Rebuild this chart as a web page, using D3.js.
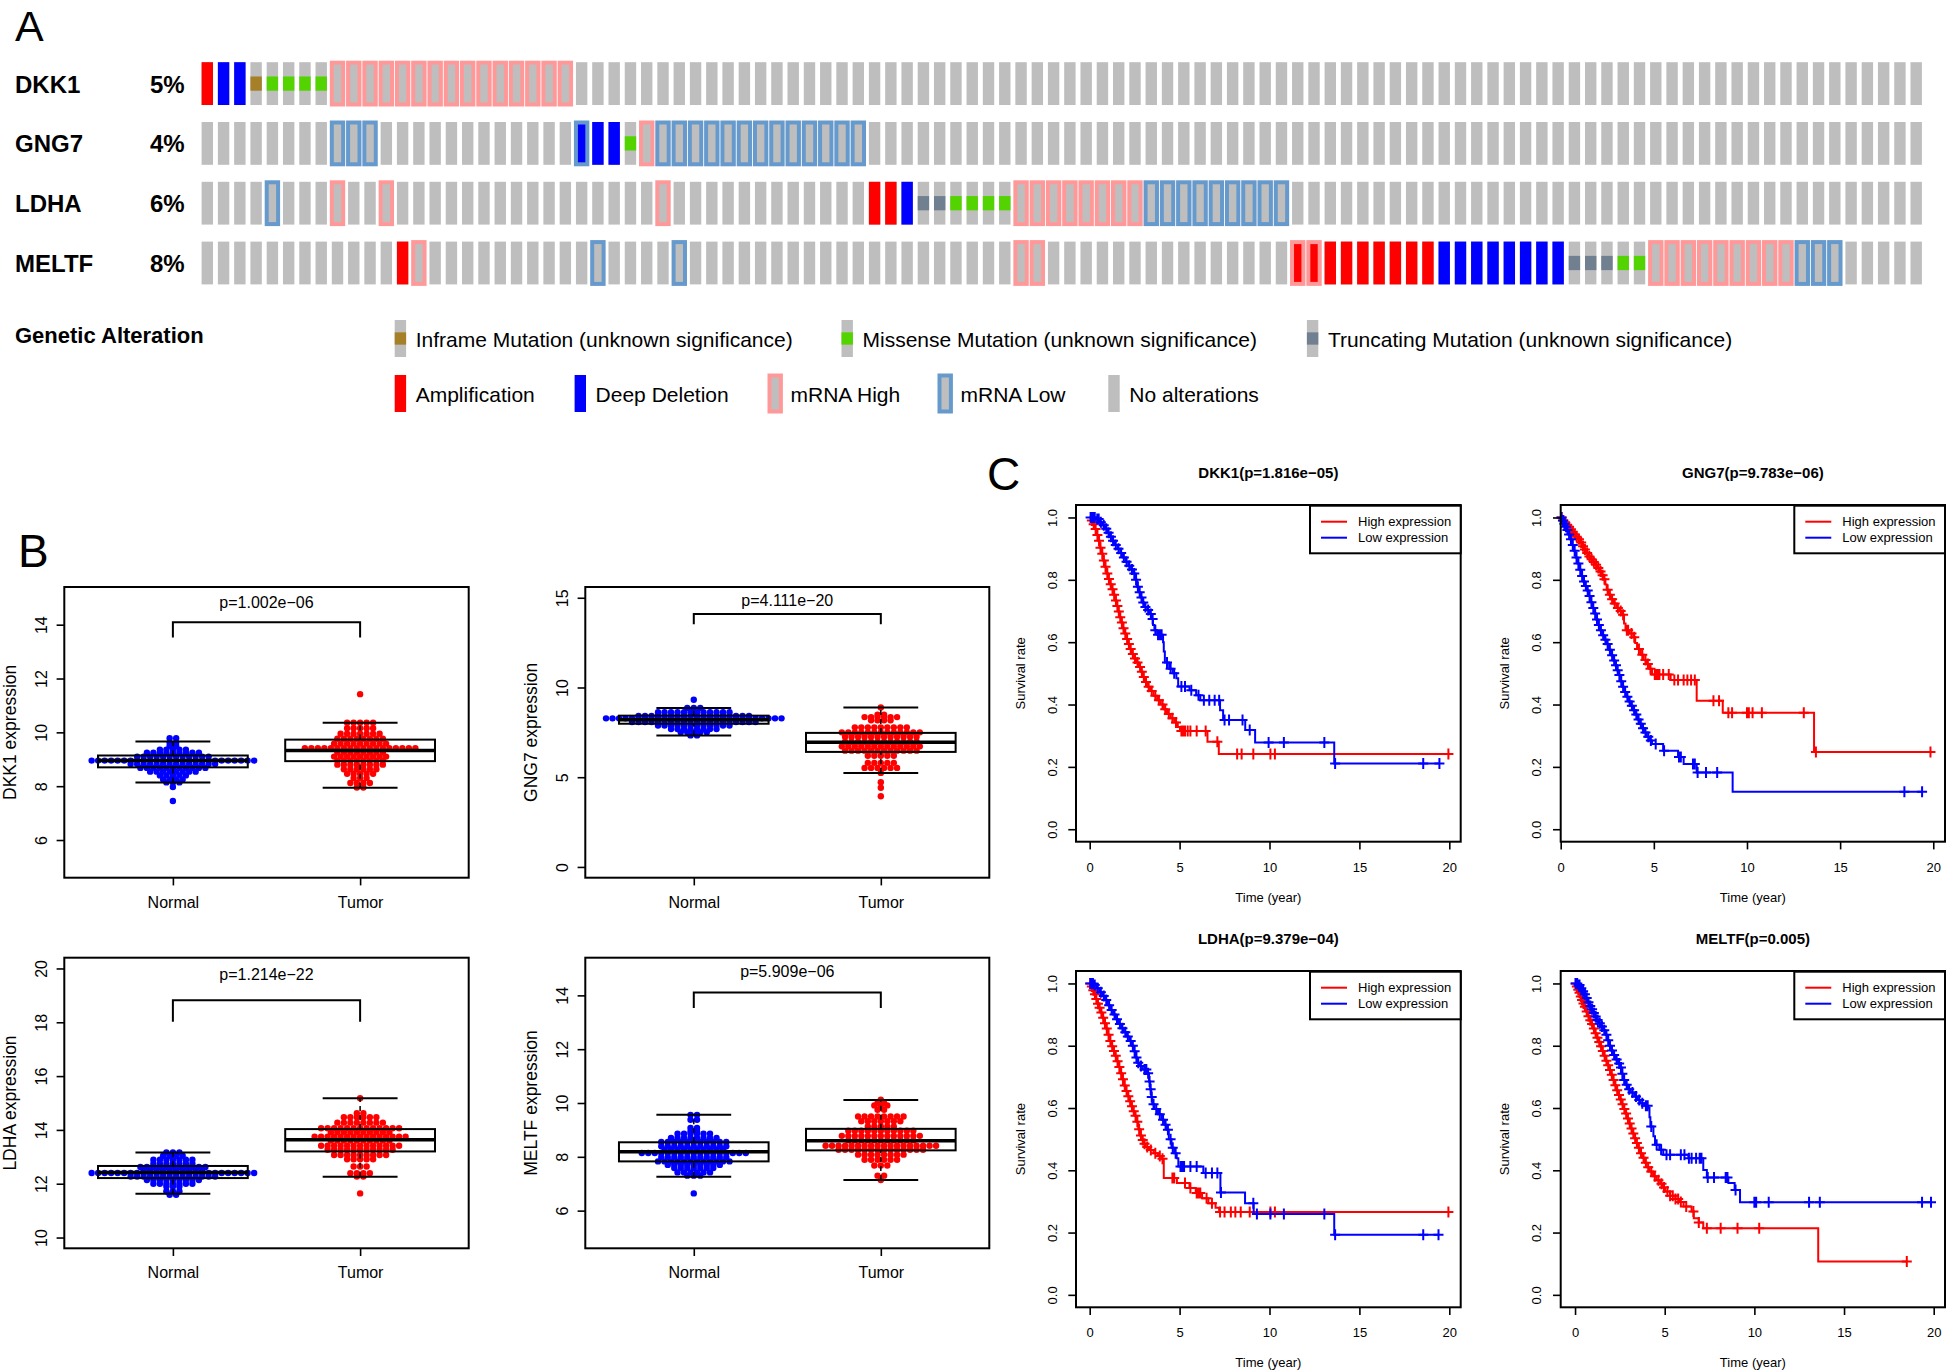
<!DOCTYPE html>
<html><head><meta charset="utf-8">
<script src="https://cdn.jsdelivr.net/npm/d3@7"></script>
<style>body{margin:0;background:#fff}svg{display:block}text{font-family:"Liberation Sans",Arial,Helvetica,sans-serif}</style>
</head><body>
<svg id="c" width="1946" height="1372"></svg>
<script>
// ================= DATA =================
// Panel A: oncoprint
const genes = ["DKK1", "GNG7", "LDHA", "MELTF"];
const alteredPct = ["5%", "4%", "6%", "8%"];
const nSamples = 106;
// ranges: [geneIndex, firstColumn, lastColumn]
const amplification = [[0,0,0],[2,41,42],[3,12,12],[3,67,75]];
const deepDeletion  = [[0,1,2],[1,23,25],[2,43,43],[3,76,83]];
const inframeMut    = [[0,3,3]];
const missenseMut   = [[0,4,7],[1,26,26],[2,46,49],[3,87,88]];
const truncatingMut = [[2,44,45],[3,84,86]];
const mrnaHigh      = [[0,8,22],[1,27,27],[2,8,8],[2,11,11],[2,28,28],[2,50,57],[3,13,13],[3,50,51],[3,67,68],[3,89,97]];
const mrnaLow       = [[1,8,10],[1,23,23],[1,28,40],[2,4,4],[2,58,66],[3,24,24],[3,29,29],[3,98,100]];
const legendRow1 = ["Inframe Mutation (unknown significance)", "Missense Mutation (unknown significance)", "Truncating Mutation (unknown significance)"];
const legendRow2 = ["Amplification", "Deep Deletion", "mRNA High", "mRNA Low", "No alterations"];

// Panel B: expression boxplots
const groups = ["Normal", "Tumor"];
// [lower whisker, Q1, median, Q3, upper whisker]
const dkk1Stats  = [[8.14, 8.70, 8.95, 9.14, 9.66], [7.94, 8.93, 9.33, 9.73, 10.36]];
const gng7Stats  = [[7.33, 7.98, 8.20, 8.43, 8.86], [5.24, 6.41, 6.95, 7.47, 8.89]];
const ldhaStats  = [[11.63, 12.21, 12.42, 12.66, 13.16], [12.26, 13.20, 13.63, 14.03, 15.18]];
const meltfStats = [[7.26, 7.83, 8.19, 8.54, 9.56], [7.14, 8.24, 8.60, 9.04, 10.11]];
// beeswarm rows: [expression value, number of samples]
const dkk1Normal  = [[9.78,2],[9.62,2],[9.5,2],[9.36,5],[9.24,9],[9.1,12],[8.95,26],[8.82,14],[8.68,11],[8.54,8],[8.40,5],[8.25,4],[8.14,3],[7.97,1],[7.45,1]];
const dkk1Tumor   = [[11.42,1],[10.36,5],[10.15,5],[9.95,7],[9.76,8],[9.58,9],[9.41,18],[9.25,8],[9.10,9],[8.95,8],[8.80,8],[8.63,6],[8.46,5],[8.30,3],[8.12,4],[7.95,2]];
const gng7Normal  = [[9.32,1],[8.86,3],[8.62,12],[8.42,18],[8.28,28],[8.08,20],[7.88,12],[7.68,8],[7.50,5],[7.33,2]];
const gng7Tumor   = [[8.89,1],[8.48,2],[8.35,6],[8.17,4],[7.78,9],[7.50,13],[7.25,12],[6.98,12],[6.72,13],[6.48,12],[6.20,5],[5.80,5],[5.52,6],[5.24,1],[4.72,1],[4.41,1],[3.94,1]];
const ldhaNormal  = [[13.16,3],[13.04,4],[12.89,7],[12.74,7],[12.62,11],[12.50,10],[12.40,26],[12.27,14],[12.14,9],[12.00,7],[11.90,3],[11.72,3],[11.59,2]];
const ldhaTumor   = [[15.18,1],[14.62,2],[14.47,6],[14.27,8],[14.06,13],[13.91,10],[13.75,15],[13.60,10],[13.41,13],[13.26,11],[13.07,9],[12.91,5],[12.64,3],[12.39,4],[12.27,2],[11.64,1]];
const meltfNormal = [[9.56,2],[9.38,2],[9.07,2],[8.94,2],[8.86,6],[8.70,8],[8.55,11],[8.39,11],[8.26,10],[8.14,17],[7.99,11],[7.83,12],[7.70,9],[7.58,7],[7.42,6],[7.30,3],[6.64,1]];
const meltfTumor  = [[10.12,1],[10.0,2],[9.91,3],[9.75,2],[9.50,8],[9.32,7],[9.13,5],[8.97,11],[8.78,13],[8.61,11],[8.41,18],[8.26,14],[8.08,8],[7.89,6],[7.68,3],[7.30,2],[7.14,1]];

// Panel C: Kaplan-Meier curves, steps [time (year), survival after event], censor times
const dkk1HighSteps = [[0.08,0.99],[0.18,0.978],[0.28,0.963],[0.38,0.944],[0.47,0.925],[0.56,0.903],[0.65,0.884],[0.74,0.862],[0.83,0.842],[0.93,0.82],[1.02,0.803],[1.12,0.786],[1.22,0.77],[1.32,0.752],[1.42,0.734],[1.5,0.716],[1.58,0.698],[1.66,0.68],[1.75,0.663],[1.84,0.645],[1.94,0.628],[2.04,0.61],[2.14,0.594],[2.24,0.578],[2.34,0.562],[2.46,0.548],[2.6,0.535],[2.74,0.52],[2.86,0.505],[2.96,0.488],[3.06,0.472],[3.2,0.457],[3.36,0.443],[3.55,0.428],[3.75,0.414],[3.95,0.4],[4.12,0.385],[4.3,0.37],[4.5,0.356],[4.7,0.342],[4.9,0.328],[5.02,0.315],[6.55,0.281],[7.18,0.241]];
const dkk1HighCensor = [0.12,0.22,0.33,0.43,0.52,0.6,0.7,0.79,0.88,0.98,1.07,1.17,1.27,1.36,1.46,1.54,1.62,1.7,1.79,1.88,1.98,2.08,2.18,2.28,2.4,2.52,2.66,2.8,2.9,3.01,3.13,3.28,3.45,3.65,3.85,4.05,4.2,4.4,4.6,4.8,5.1,5.2,5.3,5.45,5.6,5.95,6.45,7.1,8.2,8.45,9.1,10.05,10.3,19.95];
const dkk1LowSteps = [[0.35,0.995],[0.55,0.985],[0.7,0.975],[0.85,0.964],[1.0,0.951],[1.12,0.938],[1.25,0.925],[1.4,0.912],[1.55,0.9],[1.7,0.886],[1.85,0.872],[2.0,0.858],[2.15,0.845],[2.3,0.833],[2.45,0.82],[2.55,0.8],[2.62,0.778],[2.72,0.76],[2.82,0.743],[2.92,0.727],[3.02,0.713],[3.2,0.703],[3.35,0.69],[3.45,0.674],[3.52,0.655],[3.6,0.638],[3.75,0.624],[4.08,0.6],[4.12,0.57],[4.18,0.535],[4.42,0.515],[4.62,0.5],[4.82,0.484],[4.92,0.458],[5.55,0.446],[5.92,0.43],[6.15,0.414],[7.25,0.382],[7.42,0.35],[8.65,0.318],[9.2,0.278],[13.6,0.211]];
const dkk1LowCensor = [0.05,0.12,0.2,0.28,0.42,0.5,0.62,0.78,0.92,1.05,1.18,1.3,1.45,1.6,1.75,1.9,2.05,2.2,2.35,2.48,2.58,2.68,2.78,2.88,2.98,3.1,3.25,3.4,3.5,3.65,3.8,3.9,4.0,4.3,4.5,4.7,5.1,5.3,5.65,6.05,6.35,6.65,6.95,7.2,7.5,7.75,8.5,8.9,9.95,10.8,13.05,13.65,18.55,19.45];
const gng7HighSteps = [[0.1,0.99],[0.2,0.982],[0.3,0.976],[0.4,0.97],[0.5,0.962],[0.6,0.954],[0.7,0.946],[0.8,0.938],[0.92,0.93],[1.04,0.92],[1.15,0.908],[1.25,0.897],[1.35,0.886],[1.48,0.875],[1.6,0.866],[1.72,0.857],[1.84,0.848],[1.96,0.838],[2.08,0.827],[2.2,0.815],[2.3,0.802],[2.4,0.785],[2.47,0.768],[2.58,0.752],[2.7,0.738],[2.83,0.724],[3.0,0.71],[3.15,0.7],[3.3,0.688],[3.4,0.66],[3.48,0.638],[3.7,0.628],[3.9,0.616],[4.0,0.597],[4.1,0.578],[4.3,0.56],[4.45,0.543],[4.6,0.53],[4.75,0.515],[4.9,0.496],[5.9,0.479],[7.3,0.412],[8.7,0.374],[13.6,0.248]];
const gng7HighCensor = [0.05,0.15,0.25,0.35,0.45,0.55,0.65,0.75,0.86,0.98,1.1,1.2,1.3,1.42,1.54,1.66,1.78,1.9,2.02,2.14,2.25,2.35,2.52,2.64,2.76,2.9,3.07,3.22,3.35,3.55,3.62,3.8,3.95,4.2,4.38,4.55,4.68,4.82,5.05,5.12,5.2,5.3,5.5,5.8,6.1,6.3,6.6,6.8,7.0,7.2,8.2,8.5,9.0,9.2,10.0,10.1,10.3,10.8,13.05,13.7,19.85];
const gng7LowSteps = [[0.08,0.99],[0.16,0.98],[0.24,0.97],[0.32,0.96],[0.4,0.945],[0.5,0.93],[0.6,0.912],[0.7,0.893],[0.8,0.872],[0.9,0.852],[1.0,0.832],[1.1,0.812],[1.2,0.795],[1.3,0.78],[1.4,0.766],[1.5,0.748],[1.6,0.728],[1.7,0.71],[1.8,0.692],[1.9,0.673],[2.0,0.655],[2.1,0.638],[2.22,0.622],[2.34,0.608],[2.46,0.594],[2.58,0.576],[2.7,0.558],[2.82,0.541],[2.92,0.526],[3.02,0.51],[3.1,0.495],[3.2,0.475],[3.3,0.457],[3.4,0.44],[3.52,0.425],[3.64,0.41],[3.76,0.396],[3.88,0.382],[4.0,0.368],[4.12,0.352],[4.24,0.338],[4.36,0.324],[4.48,0.31],[4.62,0.297],[4.78,0.285],[4.9,0.273],[5.5,0.252],[6.3,0.232],[6.6,0.209],[7.3,0.182],[9.23,0.12]];
const gng7LowCensor = [0.04,0.12,0.2,0.28,0.36,0.45,0.55,0.65,0.75,0.85,0.95,1.05,1.15,1.25,1.35,1.45,1.55,1.65,1.75,1.85,1.95,2.05,2.16,2.28,2.4,2.52,2.64,2.76,2.87,2.97,3.06,3.15,3.25,3.35,3.46,3.58,3.7,3.82,3.94,4.06,4.18,4.3,4.42,4.55,4.7,4.84,5.1,5.55,6.35,6.45,7.1,7.2,7.35,7.8,8.4,18.45,19.4];
const ldhaHighSteps = [[0.08,0.99],[0.16,0.978],[0.25,0.965],[0.33,0.95],[0.42,0.935],[0.5,0.922],[0.6,0.907],[0.7,0.89],[0.8,0.872],[0.9,0.855],[1.0,0.835],[1.1,0.815],[1.2,0.798],[1.3,0.783],[1.4,0.768],[1.5,0.75],[1.6,0.732],[1.7,0.712],[1.8,0.692],[1.9,0.672],[2.0,0.655],[2.1,0.638],[2.2,0.622],[2.3,0.606],[2.4,0.59],[2.5,0.575],[2.6,0.556],[2.7,0.532],[2.8,0.512],[2.9,0.497],[3.0,0.485],[3.1,0.475],[3.3,0.465],[3.55,0.455],[3.8,0.446],[4.0,0.437],[4.12,0.375],[4.85,0.359],[5.55,0.343],[5.9,0.327],[6.25,0.31],[6.6,0.294],[7.0,0.28],[7.2,0.266]];
const ldhaHighCensor = [0.04,0.12,0.2,0.29,0.37,0.46,0.55,0.65,0.75,0.85,0.95,1.05,1.15,1.25,1.35,1.45,1.55,1.65,1.75,1.85,1.95,2.05,2.15,2.25,2.35,2.45,2.55,2.65,2.75,2.85,2.95,3.05,3.2,3.4,3.65,3.9,4.05,4.6,4.7,5.3,5.6,5.95,6.05,6.15,6.5,6.8,7.25,7.5,7.85,8.1,8.4,8.9,10.05,10.3,19.95];
const ldhaLowSteps = [[0.2,0.995],[0.39,0.985],[0.55,0.972],[0.7,0.96],[0.85,0.947],[1.0,0.93],[1.15,0.915],[1.3,0.9],[1.45,0.885],[1.6,0.87],[1.75,0.856],[1.9,0.843],[2.05,0.83],[2.2,0.815],[2.35,0.8],[2.45,0.782],[2.55,0.762],[2.63,0.745],[2.75,0.735],[2.95,0.724],[3.2,0.712],[3.3,0.685],[3.36,0.66],[3.42,0.635],[3.48,0.612],[3.6,0.597],[3.8,0.58],[4.0,0.562],[4.15,0.546],[4.28,0.53],[4.4,0.5],[4.55,0.472],[4.7,0.455],[4.84,0.439],[4.93,0.412],[6.32,0.391],[7.27,0.329],[8.64,0.294],[9.12,0.26],[13.6,0.193]];
const ldhaLowCensor = [0.03,0.1,0.18,0.28,0.45,0.62,0.78,0.92,1.08,1.22,1.38,1.52,1.68,1.82,1.98,2.12,2.28,2.4,2.5,2.6,2.7,2.85,3.05,3.15,3.25,3.33,3.39,3.45,3.55,3.7,3.9,4.08,4.22,4.35,4.5,4.62,4.78,5.05,5.12,5.2,5.25,5.6,5.95,6.45,6.8,7.1,7.3,9.1,9.3,10.05,10.8,13.05,13.65,18.55,19.4];
const meltfHighSteps = [[0.07,0.99],[0.14,0.98],[0.21,0.97],[0.28,0.958],[0.35,0.947],[0.43,0.936],[0.5,0.925],[0.6,0.91],[0.7,0.895],[0.8,0.882],[0.9,0.87],[1.0,0.855],[1.1,0.84],[1.2,0.826],[1.3,0.812],[1.4,0.798],[1.5,0.783],[1.6,0.768],[1.7,0.752],[1.8,0.737],[1.9,0.722],[2.0,0.707],[2.1,0.69],[2.2,0.673],[2.3,0.657],[2.4,0.642],[2.5,0.627],[2.6,0.612],[2.7,0.597],[2.8,0.582],[2.9,0.566],[3.0,0.55],[3.1,0.534],[3.2,0.518],[3.3,0.503],[3.4,0.488],[3.5,0.472],[3.62,0.455],[3.75,0.44],[3.9,0.424],[4.0,0.41],[4.15,0.396],[4.35,0.381],[4.55,0.368],[4.75,0.357],[4.9,0.345],[5.02,0.332],[5.3,0.318],[5.6,0.308],[5.85,0.298],[6.05,0.284],[6.5,0.268],[6.62,0.246],[6.9,0.232],[7.15,0.214],[13.56,0.107]];
const meltfHighCensor = [0.04,0.1,0.18,0.25,0.32,0.39,0.47,0.55,0.65,0.75,0.85,0.95,1.05,1.15,1.25,1.35,1.45,1.55,1.65,1.75,1.85,1.95,2.05,2.15,2.25,2.35,2.45,2.55,2.65,2.75,2.85,2.95,3.05,3.15,3.25,3.35,3.45,3.56,3.68,3.82,3.95,4.08,4.25,4.45,4.65,4.82,4.96,5.15,5.3,5.45,5.6,5.75,5.9,6.2,6.6,6.9,7.35,8.12,9.06,10.27,18.5];
const meltfLowSteps = [[0.15,0.995],[0.3,0.985],[0.4,0.975],[0.5,0.965],[0.6,0.953],[0.7,0.94],[0.8,0.928],[0.9,0.917],[1.0,0.905],[1.1,0.894],[1.2,0.883],[1.32,0.872],[1.45,0.862],[1.58,0.85],[1.7,0.835],[1.8,0.818],[1.9,0.8],[2.0,0.785],[2.12,0.77],[2.25,0.756],[2.4,0.743],[2.52,0.73],[2.6,0.71],[2.68,0.69],[2.8,0.675],[2.95,0.66],[3.1,0.65],[3.3,0.637],[3.5,0.626],[3.65,0.615],[3.85,0.607],[4.1,0.6],[4.15,0.57],[4.2,0.541],[4.37,0.509],[4.46,0.482],[4.7,0.466],[4.92,0.45],[6.32,0.439],[7.15,0.401],[7.35,0.377],[8.55,0.359],[8.9,0.337],[9.2,0.297]];
const meltfLowCensor = [0.03,0.08,0.12,0.2,0.25,0.35,0.45,0.55,0.65,0.75,0.85,0.95,1.05,1.15,1.26,1.38,1.5,1.63,1.75,1.85,1.95,2.06,2.18,2.32,2.46,2.56,2.64,2.74,2.88,3.02,3.2,3.4,3.58,3.75,3.95,4.05,4.25,4.55,4.8,5.1,5.3,5.9,6.1,6.35,6.5,6.75,6.95,7.05,7.4,7.75,8.4,8.5,8.95,10.0,10.1,10.8,13.05,13.65,19.35,19.85];

// ================= DRAWING =================
const svg = d3.select("#c");
const FONT = '"Liberation Sans",Arial,Helvetica,sans-serif';
const RED = "#ff0000", BLUE = "#0000ff";

// ---------- Panel A ----------
svg.append("text").attr("x", 15).attr("y", 41).attr("font-size", 43).text("A");
const oncoX = d3.scaleLinear().domain([0, nSamples - 1]).range([201.6, 1910.5]);
const oncoY = d3.scaleLinear().domain([0, genes.length - 1]).range([62.2, 241.6]);
const cellW = 11.4, cellH = 42.8;
const colGray = "#bebebe", colInframe = "#a68028", colMissense = "#53d400", colTrunc = "#708090", colHigh = "#ff9999", colLow = "#6699cc";
const onco = svg.append("g");
const expand = ranges => ranges.flatMap(([g, a, b]) => d3.range(a, b + 1).map(c => [g, c]));

genes.forEach((gname, gi) => {
  onco.append("text").attr("x", 15).attr("y", oncoY(gi) + cellH / 2 + 9).attr("font-size", 24).attr("font-weight", "bold").text(gname);
  onco.append("text").attr("x", 150).attr("y", oncoY(gi) + cellH / 2 + 9).attr("font-size", 24).attr("font-weight", "bold").text(alteredPct[gi]);
  onco.selectAll(null).data(d3.range(nSamples)).join("rect")
    .attr("x", c => oncoX(c)).attr("y", oncoY(gi)).attr("width", cellW).attr("height", cellH).attr("fill", colGray);
});
const fullCells = (ranges, color) => onco.selectAll(null).data(expand(ranges)).join("rect")
  .attr("x", d => oncoX(d[1])).attr("y", d => oncoY(d[0])).attr("width", cellW).attr("height", cellH).attr("fill", color);
const mutCells = (ranges, color) => onco.selectAll(null).data(expand(ranges)).join("rect")
  .attr("x", d => oncoX(d[1])).attr("y", d => oncoY(d[0]) + cellH / 3).attr("width", cellW).attr("height", cellH / 3).attr("fill", color);
const outlineCells = (ranges, color) => onco.selectAll(null).data(expand(ranges)).join("rect")
  .attr("x", d => oncoX(d[1])).attr("y", d => oncoY(d[0]) + 0.5).attr("width", cellW).attr("height", cellH - 1)
  .attr("fill", "none").attr("stroke", color).attr("stroke-width", 4);
fullCells(amplification, RED);
fullCells(deepDeletion, BLUE);
mutCells(inframeMut, colInframe);
mutCells(missenseMut, colMissense);
mutCells(truncatingMut, colTrunc);
outlineCells(mrnaHigh, colHigh);
outlineCells(mrnaLow, colLow);

// legend
const leg = svg.append("g");
leg.append("text").attr("x", 15).attr("y", 342.5).attr("font-size", 22).attr("font-weight", "bold").text("Genetic Alteration");
const lh = 37;
const row1X = [394.7, 841.5, 1306.9], row1Col = [colInframe, colMissense, colTrunc];
legendRow1.forEach((t, i) => {
  leg.append("rect").attr("x", row1X[i]).attr("y", 320).attr("width", cellW).attr("height", lh).attr("fill", colGray);
  leg.append("rect").attr("x", row1X[i]).attr("y", 320 + lh / 3).attr("width", cellW).attr("height", lh / 3).attr("fill", row1Col[i]);
  leg.append("text").attr("x", row1X[i] + 21).attr("y", 347).attr("font-size", 21).text(t);
});
const row2X = [394.7, 574.6, 769.5, 939.5, 1108.3];
legendRow2.forEach((t, i) => {
  const y0 = 375;
  if (i === 0) leg.append("rect").attr("x", row2X[i]).attr("y", y0).attr("width", cellW).attr("height", lh).attr("fill", RED);
  else if (i === 1) leg.append("rect").attr("x", row2X[i]).attr("y", y0).attr("width", cellW).attr("height", lh).attr("fill", BLUE);
  else {
    leg.append("rect").attr("x", row2X[i]).attr("y", y0).attr("width", cellW).attr("height", lh).attr("fill", colGray);
    if (i === 2 || i === 3) leg.append("rect").attr("x", row2X[i]).attr("y", y0 + 0.5).attr("width", cellW).attr("height", lh - 1)
      .attr("fill", "none").attr("stroke", i === 2 ? colHigh : colLow).attr("stroke-width", 4);
  }
  leg.append("text").attr("x", row2X[i] + 21).attr("y", 402).attr("font-size", 21).text(t);
});

// ---------- Panel B ----------
svg.append("text").attr("x", 18).attr("y", 567).attr("font-size", 46).text("B");
const dotStep = 6.5, dotR = 3.2;
function boxPanel(o) {
  const g = svg.append("g");
  const x = d3.scaleLinear().domain([0.42, 2.58]).range([o.left, o.right]);
  const y = d3.scaleLinear().domain(o.yDomain).range([o.bottom, o.top]);
  const cols = [BLUE, RED];
  // dots (beeswarm, centred rows)
  o.rows.forEach((rows, gi) => {
    const pts = rows.flatMap(([v, n]) => d3.range(n).map(i => ({ v, off: (i - (n - 1) / 2) * dotStep })));
    g.selectAll(null).data(pts).join("circle")
      .attr("cx", d => x(gi + 1) + d.off).attr("cy", d => y(d.v)).attr("r", dotR).attr("fill", cols[gi]);
  });
  // boxes
  o.stats.forEach((s, gi) => {
    const cx = x(gi + 1), bl = x(gi + 1 - 0.4), br = x(gi + 1 + 0.4), cl = x(gi + 1 - 0.2), cr = x(gi + 1 + 0.2);
    g.append("line").attr("x1", cx).attr("x2", cx).attr("y1", y(s[0])).attr("y2", y(s[1])).attr("stroke", "#000").attr("stroke-width", 1.5).attr("stroke-dasharray", "5,4");
    g.append("line").attr("x1", cx).attr("x2", cx).attr("y1", y(s[3])).attr("y2", y(s[4])).attr("stroke", "#000").attr("stroke-width", 1.5).attr("stroke-dasharray", "5,4");
    g.append("line").attr("x1", cl).attr("x2", cr).attr("y1", y(s[0])).attr("y2", y(s[0])).attr("stroke", "#000").attr("stroke-width", 2);
    g.append("line").attr("x1", cl).attr("x2", cr).attr("y1", y(s[4])).attr("y2", y(s[4])).attr("stroke", "#000").attr("stroke-width", 2);
    g.append("rect").attr("x", bl).attr("y", y(s[3])).attr("width", br - bl).attr("height", y(s[1]) - y(s[3])).attr("fill", "none").attr("stroke", "#000").attr("stroke-width", 2);
    g.append("line").attr("x1", bl).attr("x2", br).attr("y1", y(s[2])).attr("y2", y(s[2])).attr("stroke", "#000").attr("stroke-width", 3.5);
  });
  // frame
  g.append("rect").attr("x", o.left).attr("y", o.top).attr("width", o.right - o.left).attr("height", o.bottom - o.top).attr("fill", "none").attr("stroke", "#000").attr("stroke-width", 2);
  // axes
  const ya = g.append("g").attr("transform", `translate(${o.left},0)`)
    .call(d3.axisLeft(y).tickValues(o.yTicks).tickSize(7.7).tickFormat(d3.format("d")));
  ya.select(".domain").remove();
  ya.attr("font-size", 16).attr("font-family", FONT);
  ya.selectAll("line").attr("stroke-width", 1.6);
  ya.selectAll("text").attr("x", 0).attr("dy", null).attr("y", -17.5).attr("text-anchor", "middle").attr("transform", "rotate(-90)");
  const xa = g.append("g").attr("transform", `translate(0,${o.bottom})`)
    .call(d3.axisBottom(x).tickValues([1, 2]).tickSize(7.7).tickFormat(d => groups[d - 1]));
  xa.select(".domain").remove();
  xa.attr("font-size", 16).attr("font-family", FONT);
  xa.selectAll("line").attr("stroke-width", 1.6);
  xa.selectAll("text").attr("dy", null).attr("y", 30);
  // y title
  g.append("text").attr("transform", `translate(${o.left - 48},${(o.top + o.bottom) / 2}) rotate(-90)`)
    .attr("text-anchor", "middle").attr("font-size", 17.5).text(o.title);
  // significance bracket
  g.append("path").attr("d", `M${x(1)},${y(o.bracket[1])}V${y(o.bracket[0])}H${x(2)}V${y(o.bracket[1])}`)
    .attr("fill", "none").attr("stroke", "#000").attr("stroke-width", 2);
  g.append("text").attr("x", x(1.5)).attr("y", y(o.bracket[2])).attr("text-anchor", "middle").attr("font-size", 16).text(o.pText);
}
boxPanel({ left: 64.3, right: 468.7, top: 587, bottom: 877.7, yDomain: [4.6, 15.4], yTicks: [6, 8, 10, 12, 14], title: "DKK1 expression", stats: dkk1Stats, rows: [dkk1Normal, dkk1Tumor], bracket: [14.09, 13.52, 14.63], pText: "p=1.002e\u221206" });
boxPanel({ left: 585.3, right: 989.3, top: 587, bottom: 877.7, yDomain: [-0.6, 15.6], yTicks: [0, 5, 10, 15], title: "GNG7 expression", stats: gng7Stats, rows: [gng7Normal, gng7Tumor], bracket: [14.09, 13.52, 14.56], pText: "p=4.111e\u221220" });
boxPanel({ left: 64.3, right: 468.7, top: 957.7, bottom: 1248.3, yDomain: [9.6, 20.4], yTicks: [10, 12, 14, 16, 18, 20], title: "LDHA expression", stats: ldhaStats, rows: [ldhaNormal, ldhaTumor], bracket: [18.82, 18.02, 19.57], pText: "p=1.214e\u221222" });
boxPanel({ left: 585.3, right: 989.3, top: 957.7, bottom: 1248.3, yDomain: [4.6, 15.4], yTicks: [6, 8, 10, 12, 14], title: "MELTF expression", stats: meltfStats, rows: [meltfNormal, meltfTumor], bracket: [14.11, 13.53, 14.68], pText: "p=5.909e\u221206" });

// ---------- Panel C ----------
svg.append("text").attr("x", 987).attr("y", 490).attr("font-size", 46).text("C");
function kmPanel(o) {
  const g = svg.append("g");
  const x = d3.scaleLinear().domain(o.xDomain).range([o.left, o.right]);
  const y = d3.scaleLinear().domain([-0.04, 1.04]).range([o.bottom, o.top]);
  const line = d3.line().x(d => x(d[0])).y(d => y(d[1])).curve(d3.curveStepAfter);
  [[o.high, o.highCensor, RED], [o.low, o.lowCensor, BLUE]].forEach(([steps, cens, col]) => {
    const last = steps[steps.length - 1];
    const end = Math.max(last[0], d3.max(cens));
    g.append("path").attr("d", line([[0, 1], ...steps, [end, last[1]]])).attr("fill", "none").attr("stroke", col).attr("stroke-width", 2);
    const surv = t => { let s = 1; for (const [tt, ss] of steps) { if (tt <= t) s = ss; else break; } return s; };
    g.append("path").attr("d", cens.map(t => { const cx = x(t), cy = y(surv(t)); return `M${cx - 5},${cy}H${cx + 5}M${cx},${cy - 5.5}V${cy + 5.5}`; }).join(""))
      .attr("fill", "none").attr("stroke", col).attr("stroke-width", 2);
  });
  g.append("rect").attr("x", o.left).attr("y", o.top).attr("width", o.right - o.left).attr("height", o.bottom - o.top).attr("fill", "none").attr("stroke", "#000").attr("stroke-width", 2);
  const ya = g.append("g").attr("transform", `translate(${o.left},0)`)
    .call(d3.axisLeft(y).tickValues([0, 0.2, 0.4, 0.6, 0.8, 1.0]).tickSize(7.7).tickFormat(d3.format(".1f")));
  ya.select(".domain").remove();
  ya.attr("font-size", 13).attr("font-family", FONT);
  ya.selectAll("line").attr("stroke-width", 1.6);
  ya.selectAll("text").attr("x", 0).attr("dy", null).attr("y", -19.3).attr("text-anchor", "middle").attr("transform", "rotate(-90)");
  const xa = g.append("g").attr("transform", `translate(0,${o.bottom})`)
    .call(d3.axisBottom(x).tickValues([0, 5, 10, 15, 20]).tickSize(7.7).tickFormat(d3.format("d")));
  xa.select(".domain").remove();
  xa.attr("font-size", 13).attr("font-family", FONT);
  xa.selectAll("line").attr("stroke-width", 1.6);
  xa.selectAll("text").attr("dy", null).attr("y", 30);
  g.append("text").attr("transform", `translate(${o.left - 51.5},${(o.top + o.bottom) / 2}) rotate(-90)`).attr("text-anchor", "middle").attr("font-size", 13).text("Survival rate");
  g.append("text").attr("x", (o.left + o.right) / 2).attr("y", o.bottom + 60).attr("text-anchor", "middle").attr("font-size", 13).text("Time (year)");
  g.append("text").attr("x", (o.left + o.right) / 2).attr("y", o.top - 27).attr("text-anchor", "middle").attr("font-size", 15).attr("font-weight", "bold").text(o.title);
  // legend
  const bx = o.right - 150.7, by = o.top + 0.7;
  g.append("rect").attr("x", bx).attr("y", by).attr("width", 150.7).attr("height", 47.6).attr("fill", "#fff").attr("stroke", "#000").attr("stroke-width", 2);
  [["High expression", RED], ["Low expression", BLUE]].forEach(([t, c], i) => {
    const ly = by + 16 + i * 16;
    g.append("line").attr("x1", bx + 11).attr("x2", bx + 37).attr("y1", ly).attr("y2", ly).attr("stroke", c).attr("stroke-width", 2);
    g.append("text").attr("x", bx + 48).attr("y", ly + 4.7).attr("font-size", 13).text(t);
  });
}
kmPanel({ left: 1076, right: 1460.7, top: 505, bottom: 841.7, xDomain: [-0.762, 20.634], title: "DKK1(p=1.816e\u221205)", high: dkk1HighSteps, highCensor: dkk1HighCensor, low: dkk1LowSteps, lowCensor: dkk1LowCensor });
kmPanel({ left: 1560.7, right: 1945, top: 505, bottom: 841.7, xDomain: [0, 20.63], title: "GNG7(p=9.783e\u221206)", high: gng7HighSteps, highCensor: gng7HighCensor, low: gng7LowSteps, lowCensor: gng7LowCensor });
kmPanel({ left: 1076, right: 1460.7, top: 971, bottom: 1307.3, xDomain: [-0.762, 20.634], title: "LDHA(p=9.379e\u221204)", high: ldhaHighSteps, highCensor: ldhaHighCensor, low: ldhaLowSteps, lowCensor: ldhaLowCensor });
kmPanel({ left: 1560.7, right: 1945, top: 971, bottom: 1307.3, xDomain: [-0.8, 20.63], title: "MELTF(p=0.005)", high: meltfHighSteps, highCensor: meltfHighCensor, low: meltfLowSteps, lowCensor: meltfLowCensor });
</script>
</body></html>
